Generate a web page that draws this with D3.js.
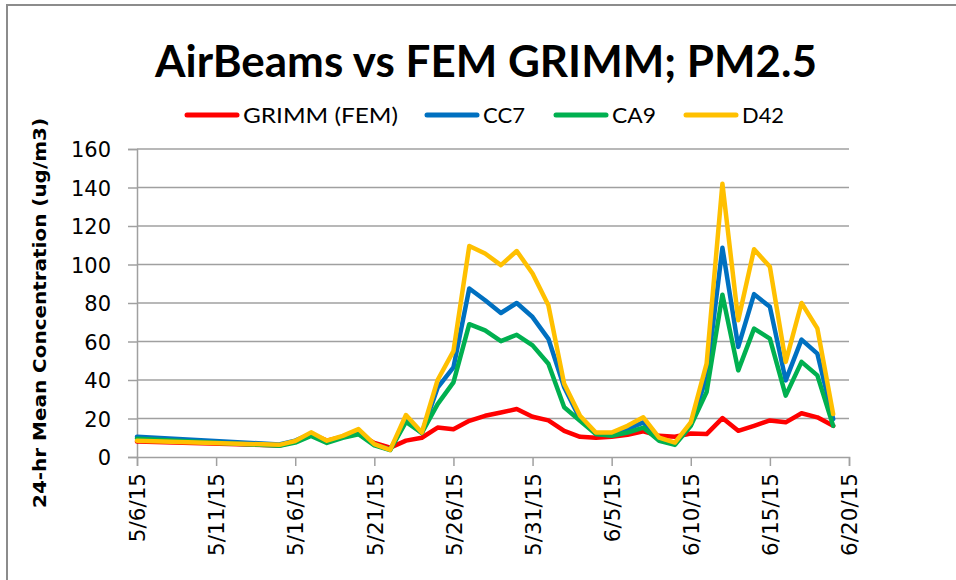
<!DOCTYPE html>
<html>
<head>
<meta charset="utf-8">
<script src="https://cdn.jsdelivr.net/npm/d3@7"></script>
<style>
    body { margin: 0; background: #fff; }
    text { fill: #000; }
</style>
</head>
<body>
<div id="chart"></div>
<script>
// Data
const dates = ['5/6/15', '5/15/15', '5/16/15', '5/17/15', '5/18/15', '5/19/15', '5/20/15', '5/21/15',
    '5/22/15', '5/23/15', '5/24/15', '5/25/15', '5/26/15', '5/27/15', '5/28/15', '5/29/15', '5/30/15',
    '5/31/15', '6/1/15', '6/2/15', '6/3/15', '6/4/15', '6/5/15', '6/6/15', '6/7/15', '6/8/15', '6/9/15',
    '6/10/15', '6/11/15', '6/12/15', '6/13/15', '6/14/15', '6/15/15', '6/16/15', '6/17/15', '6/18/15', '6/19/15'];
const grimm = [8, 6, 8, 12, 8.5, 10.5, 12, 7.3, 4.8, 8.5, 10, 15.3, 14.4, 18.8, 21.4, 23.1, 24.9,
    20.9, 19, 13.6, 10.5, 10, 10.5, 11.5, 13.3, 11, 10.5, 12.2, 11.9, 20.2, 13.6, 16.2, 19, 18, 22.7, 20.6, 16.2];
const cc7 = [10.5, 6.5, 8.5, 12, 8, 10.5, 13, 6.5, 3.8, 19, 12.5, 36, 46.5, 87.5, 81.4, 74.8, 80,
    72.7, 61.4, 36.2, 19.7, 12, 11.5, 14.5, 18, 9.5, 7, 16.5, 41.5, 108.7, 57.2, 84.6, 78, 39.8, 61, 53.7, 19.7];
const ca9 = [9.5, 5.8, 7.5, 11, 7.3, 10, 11.8, 6, 3.6, 18.2, 12.5, 27.5, 38.8, 69, 65.8, 60.2, 63.5,
    58, 48.4, 25.8, 18.8, 11.9, 11, 12.7, 15.3, 8.4, 6.3, 16.2, 33.7, 84.3, 45, 66.7, 61.5, 31.9, 49.4, 42.4, 16.2];
const d42 = [8.5, 6.3, 8.3, 12.8, 8.5, 11, 14.5, 6.7, 3.7, 21.8, 12.7, 40, 55, 109.6, 105.7, 99.7, 107,
    95.3, 78.8, 38, 21.4, 12.7, 12.7, 16.2, 20.6, 10.1, 7.5, 18, 48.5, 142, 71, 107.9, 98.8, 49.4, 80, 66.8, 22.3];
const seriesNames = ['GRIMM (FEM)', 'CC7', 'CA9', 'D42'];
const seriesColors = ['#ff0000', '#0070c0', '#00b050', '#ffc000'];
const yTicks = [0, 20, 40, 60, 80, 100, 120, 140, 160];
const xTickLabels = ['5/6/15', '5/11/15', '5/16/15', '5/21/15', '5/26/15', '5/31/15', '6/5/15', '6/10/15', '6/15/15', '6/20/15'];

const W = 956, H = 580;
const plot = { left: 137, right: 849, top: 149, bottom: 457 };
const parseDate = d3.timeParse('%m/%d/%y');

const svg = d3.select('#chart').append('svg')
    .attr('width', W)
    .attr('height', H);

// outer frame (only top and left edges visible in the reference)
svg.append('path')
    .attr('d', 'M7,' + H + ' V5 H' + W)
    .attr('fill', 'none')
    .attr('stroke', '#8c8c8c')
    .attr('stroke-width', 2);

const x = d3.scaleTime()
    .domain([parseDate('5/6/15'), parseDate('6/20/15')])
    .range([plot.left, plot.right]);
const y = d3.scaleLinear()
    .domain([0, 160])
    .range([plot.bottom, plot.top]);

// gridlines
svg.append('g')
    .selectAll('line')
    .data(yTicks.filter(d => d > 0))
    .enter()
    .append('line')
    .attr('x1', plot.left)
    .attr('x2', plot.right)
    .attr('y1', d => y(d))
    .attr('y2', d => y(d))
    .attr('stroke', '#a0a0a0')
    .attr('stroke-width', 1.5);

// y axis
const yAxis = svg.append('g')
    .attr('transform', 'translate(' + plot.left + ',0)')
    .call(d3.axisLeft(y).tickValues(yTicks).tickSize(9).tickPadding(17));
yAxis.select('.domain').attr('stroke', '#a0a0a0').attr('stroke-width', 1.5);
yAxis.selectAll('.tick line').attr('stroke', '#a0a0a0').attr('stroke-width', 1.5);
yAxis.selectAll('.tick text')
    .attr('font-family', 'DejaVu Sans')
    .attr('font-size', 21)
    .attr('dy', '0.36em');

// x axis
const xAxis = svg.append('g')
    .attr('transform', 'translate(0,' + plot.bottom + ')')
    .call(d3.axisBottom(x)
        .tickValues(xTickLabels.map(parseDate))
        .tickFormat(d3.timeFormat('%-m/%-d/%y'))
        .tickSize(9));
xAxis.select('.domain').attr('stroke', '#a0a0a0').attr('stroke-width', 1.5);
xAxis.selectAll('.tick line').attr('stroke', '#a0a0a0').attr('stroke-width', 1.5);
xAxis.selectAll('.tick text')
    .attr('font-family', 'DejaVu Sans')
    .attr('font-size', 21.5)
    .attr('text-anchor', 'end')
    .attr('transform', 'rotate(-90)')
    .attr('x', -16)
    .attr('y', 0)
    .attr('dy', '0.36em');

// series lines
const allSeries = [grimm, cc7, ca9, d42];
const line = d3.line()
    .x((d, i) => x(parseDate(dates[i])))
    .y(d => y(d));

svg.append('g')
    .selectAll('path')
    .data(allSeries)
    .enter()
    .append('path')
    .attr('d', d => line(d))
    .attr('fill', 'none')
    .attr('stroke', (d, i) => seriesColors[i])
    .attr('stroke-width', 4.5)
    .attr('stroke-linejoin', 'round')
    .attr('stroke-linecap', 'round');

// title
svg.append('text')
    .attr('x', 486)
    .attr('y', 77)
    .attr('text-anchor', 'middle')
    .attr('font-family', 'Lato')
    .attr('font-weight', 'bold')
    .attr('font-size', 44)
    .attr('textLength', 662)
    .attr('lengthAdjust', 'spacingAndGlyphs')
    .text('AirBeams vs FEM GRIMM; PM2.5');

// legend
const legendX = [187, 427, 556, 686];
const legendTextW = [155, 42, 44, 42];
const legend = svg.append('g')
    .selectAll('g')
    .data(seriesNames)
    .enter()
    .append('g')
    .attr('transform', (d, i) => 'translate(' + legendX[i] + ',115)');
legend.append('line')
    .attr('x1', 0)
    .attr('x2', 50)
    .attr('stroke', (d, i) => seriesColors[i])
    .attr('stroke-width', 5)
    .attr('stroke-linecap', 'round');
legend.append('text')
    .attr('x', 56)
    .attr('dy', '0.36em')
    .attr('font-family', 'Lato')
    .attr('font-size', 22)
    .attr('textLength', (d, i) => legendTextW[i])
    .attr('lengthAdjust', 'spacingAndGlyphs')
    .text(d => d);

// y axis title
svg.append('text')
    .attr('transform', 'translate(40,313) rotate(-90)')
    .attr('text-anchor', 'middle')
    .attr('dy', '0.36em')
    .attr('font-family', 'DejaVu Sans')
    .attr('font-weight', 'bold')
    .attr('font-size', 18)
    .attr('textLength', 390)
    .attr('lengthAdjust', 'spacingAndGlyphs')
    .text('24-hr Mean Concentration (ug/m3)');
</script>
</body>
</html>
